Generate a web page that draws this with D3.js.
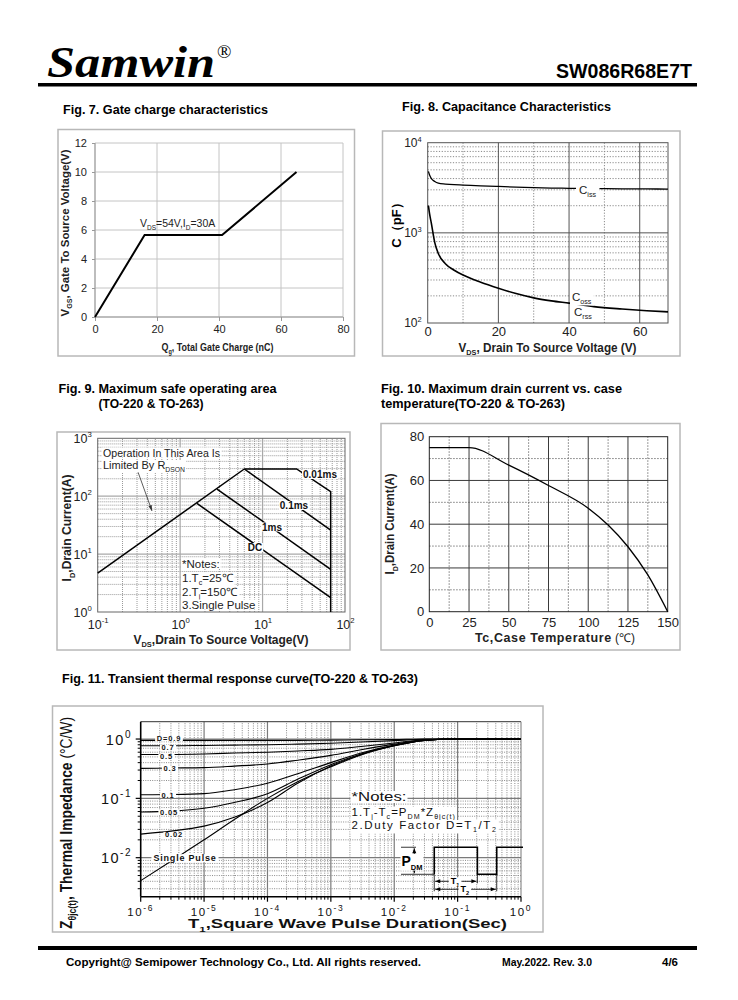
<!DOCTYPE html>
<html><head><meta charset="utf-8">
<script src="https://cdn.jsdelivr.net/npm/d3@7"></script>
<style>body{margin:0;background:#fff}svg{display:block}</style>
</head><body><svg id="page" width="738" height="1000" font-family='"Liberation Sans", Arial, sans-serif'></svg>
<script>
// ---------------- DATA ----------------
// Fig 7 gate charge
const fig7Q = [0, 16, 41, 65];
const fig7V = [0, 5.65, 5.65, 10];
const fig7XTicks = [0, 20, 40, 60, 80];
const fig7YTicks = [0, 2, 4, 6, 8, 10, 12];
// Fig 8 capacitance
const fig8V    = [0.2, 0.5, 1, 2, 3, 5, 7.5, 10, 15, 20, 25, 30, 35, 40, 47, 55, 62, 68];
const fig8Ciss = [4800, 4400, 4030, 3710, 3560, 3480, 3420, 3390, 3320, 3270, 3220, 3170, 3140, 3120, 3100, 3080, 3070, 3060];
const fig8Coss = [2000, 1650, 1300, 780, 590, 455, 385, 340, 283, 243, 212, 190, 176, 166, 152, 143, 137, 133];
const fig8XTicks = [0, 20, 40, 60];
const fig8XMinor = [10, 30, 50];
const fig8YTicks = [100, 1000, 10000];
// Fig 9 SOA
const soaRdsV = [0.1, 6.0],  soaRdsI = [4.7, 295];
const soa10usV = [6.0, 25.9, 67, 67], soa10usI = [295, 295, 120, 1];
const soa100usV = [6.0, 67], soa100usI = [295, 26];
const soa1msV = [2.8, 67], soa1msI = [133, 5.46];
const soaDCV = [1.6, 67], soaDCI = [75, 1.77];
const soaArrowV = [0.308, 0.456], soaArrowI = [262, 55.5];
const fig9XTicks = [0.1, 1, 10, 100];
const fig9YTicks = [1, 10, 100, 1000];
// Fig 10 drain current vs case temperature
const fig10T = [0, 25, 50, 75, 100, 112.5, 125, 137.5, 150];
const fig10I = [75, 75, 67, 57.7, 47.3, 39.6, 29.7, 16.8, 0];
const fig10XTicks = [0, 25, 50, 75, 100, 125, 150];
const fig10XMinor = [12.5, 37.5, 62.5, 87.5, 112.5, 137.5];
const fig10YTicks = [0, 20, 40, 60, 80];
const fig10YMinor = [10, 30, 50, 70];
// Fig 11 transient thermal
const fig11T = [1e-6, 3e-6, 1e-5, 3e-5, 1e-4, 3e-4, 1e-3, 3e-3, 1e-2, 3e-2, 1e-1, 1];
const z09 = [0.95, 0.95, 0.95, 0.95, 0.95, 0.95, 0.96, 0.97, 0.98, 1.0, 1.0, 1.0];
const z07 = [0.77, 0.77, 0.78, 0.79, 0.80, 0.82, 0.85, 0.89, 0.94, 0.99, 1.0, 1.0];
const z05 = [0.55, 0.55, 0.56, 0.58, 0.60, 0.63, 0.67, 0.75, 0.86, 0.97, 1.0, 1.0];
const z03 = [0.32, 0.325, 0.33, 0.35, 0.38, 0.44, 0.53, 0.66, 0.82, 0.96, 1.0, 1.0];
const z01 = [0.115, 0.116, 0.12, 0.14, 0.18, 0.26, 0.40, 0.58, 0.79, 0.95, 1.0, 1.0];
const z005 = [0.059, 0.061, 0.068, 0.085, 0.12, 0.21, 0.37, 0.56, 0.78, 0.95, 1.0, 1.0];
const z002 = [0.025, 0.028, 0.034, 0.048, 0.085, 0.18, 0.35, 0.55, 0.77, 0.95, 1.0, 1.0];
const zSingle = [0.0041, 0.0087, 0.020, 0.044, 0.10, 0.19, 0.34, 0.54, 0.77, 0.95, 1.0, 1.0];
const fig11Labels = ["D=0.9", "0.7", "0.5", "0.3", "0.1", "0.05", "0.02"];
const fig11XTicks = [1e-6, 1e-5, 1e-4, 1e-3, 1e-2, 1e-1, 1];
const fig11YTicks = [0.01, 0.1, 1];
const pulseT = [0.0428, 0.205, 0.414];   // rising, falling, rising edges
const pulseZ = [0.0150, 0.00525];        // top, bottom levels

// ---------------- HELPERS ----------------
const svg = d3.select('#page');
const FONT = '"Liberation Sans", Arial, sans-serif';

function frame(x, y, w, h) {
  svg.append('rect').attr('x', x).attr('y', y).attr('width', w).attr('height', h)
    .attr('fill', 'none').attr('stroke', '#b8b8b8').attr('stroke-width', 1.5);
}
function text(g, x, y, s, o = {}) {
  const t = g.append('text').attr('x', x).attr('y', y).text(s);
  for (const k in o) t.attr(k, o[k]);
  return t;
}
function rich(t, parts, fs) {
  let shift = 0;
  parts.forEach(([s, k]) => {
    const target = k === 'sub' ? fs * 0.3 : k === 'sup' ? -fs * 0.4 : 0;
    const ts = t.append('tspan').text(s).attr('dy', target - shift);
    if (k !== 'n') ts.attr('font-size', fs * 0.62);
    shift = target;
  });
  return t;
}
function bg(g, t, pad = 1, shrink = 1) {
  const b = t.node().getBBox();
  g.insert('rect', () => t.node()).attr('x', b.x - pad).attr('y', b.y + shrink)
    .attr('width', b.width + 2 * pad).attr('height', b.height - 2 * shrink).attr('fill', '#fff');
}
function minorLog(lo, hi) {
  const out = [];
  for (let e = lo; e < hi; e++) for (let m = 2; m <= 9; m++) out.push(m * Math.pow(10, e));
  return out;
}
function supTicks(ax, fs) {
  ax.selectAll('.tick text').each(function (d) {
    const e = Math.round(Math.log10(d));
    const t = d3.select(this); t.text(null);
    t.append('tspan').text('10');
    t.append('tspan').text(e).attr('dy', -fs * 0.45).attr('font-size', fs * 0.62);
  });
}
function vgrid(g, xs, ys, vals, stroke, dash, w = 1) {
  g.append('g').selectAll('line').data(vals).join('line')
    .attr('x1', d => xs(d)).attr('x2', d => xs(d))
    .attr('y1', ys.range()[0]).attr('y2', ys.range()[1])
    .attr('stroke', stroke).attr('stroke-width', w).attr('stroke-dasharray', dash);
}
function hgrid(g, xs, ys, vals, stroke, dash, w = 1) {
  g.append('g').selectAll('line').data(vals).join('line')
    .attr('y1', d => ys(d)).attr('y2', d => ys(d))
    .attr('x1', xs.range()[0]).attr('x2', xs.range()[1])
    .attr('stroke', stroke).attr('stroke-width', w).attr('stroke-dasharray', dash);
}
function styleAxis(ax, fs, color = '#222', tickColor = '#999') {
  ax.attr('font-family', FONT).attr('font-size', fs);
  ax.select('.domain').remove();
  ax.selectAll('.tick line').attr('stroke', tickColor);
  ax.selectAll('.tick text').attr('fill', color);
}
const zip = (a, b) => a.map((v, i) => [v, b[i]]);

// ---------------- HEADER / FOOTER ----------------
text(svg, 47, 77, 'Samwin', { 'font-family': '"Liberation Serif", "DejaVu Serif", serif', 'font-weight': 'bold', 'font-style': 'italic', 'font-size': 45, textLength: 168, lengthAdjust: 'spacingAndGlyphs' });
text(svg, 217, 58, '®', { 'font-family': '"Liberation Serif", serif', 'font-size': 19 });
text(svg, 692, 78, 'SW086R68E7T', { 'font-weight': 'bold', 'font-size': 20, 'text-anchor': 'end', textLength: 136, lengthAdjust: 'spacingAndGlyphs' });
svg.append('rect').attr('x', 38).attr('y', 83).attr('width', 659).attr('height', 3.5).attr('fill', '#000');
svg.append('rect').attr('x', 38).attr('y', 946).attr('width', 659).attr('height', 4).attr('fill', '#000');
text(svg, 66, 966, 'Copyright@ Semipower Technology Co., Ltd. All rights reserved.', { 'font-weight': 'bold', 'font-size': 11.5, textLength: 355, lengthAdjust: 'spacingAndGlyphs' });
text(svg, 502, 966, 'May.2022. Rev. 3.0', { 'font-weight': 'bold', 'font-size': 11, textLength: 90, lengthAdjust: 'spacingAndGlyphs' });
text(svg, 662, 966, '4/6', { 'font-weight': 'bold', 'font-size': 11, textLength: 16, lengthAdjust: 'spacingAndGlyphs' });

// ---------------- TITLES ----------------
const tStyle = { 'font-weight': 'bold', 'font-size': 13, lengthAdjust: 'spacingAndGlyphs' };
text(svg, 63, 114, 'Fig. 7. Gate charge characteristics', { ...tStyle, textLength: 205 });
text(svg, 402, 110.7, 'Fig. 8. Capacitance Characteristics', { ...tStyle, textLength: 209 });
text(svg, 58.5, 392.7, 'Fig. 9. Maximum safe operating area', { ...tStyle, textLength: 218 });
text(svg, 98.5, 407.5, '(TO-220 & TO-263)', { ...tStyle, textLength: 105 });
text(svg, 381, 392.7, 'Fig. 10. Maximum drain current vs. case', { ...tStyle, textLength: 241 });
text(svg, 381, 407.5, 'temperature(TO-220 & TO-263)', { ...tStyle, textLength: 184 });
text(svg, 62, 683.3, 'Fig. 11. Transient thermal response curve(TO-220 & TO-263)', { ...tStyle, textLength: 356 });

// ---------------- FIG 7 ----------------
{
  frame(58, 129.5, 296.5, 226.5);
  const g = svg.append('g');
  const x = d3.scaleLinear([0, 80], [95, 343]);
  const y = d3.scaleLinear([0, 12], [317, 143]);
  vgrid(g, x, y, fig7XTicks, '#c4c4c4', null);
  hgrid(g, x, y, fig7YTicks, '#c4c4c4', null);
  g.append('line').attr('x1', x(0)).attr('x2', x(0)).attr('y1', y(0)).attr('y2', y(12)).attr('stroke', '#999');
  g.append('line').attr('x1', x(0)).attr('x2', x(80)).attr('y1', y(0)).attr('y2', y(0)).attr('stroke', '#999');
  const ax = g.append('g').attr('transform', `translate(0,${y(0)})`)
    .call(d3.axisBottom(x).tickValues(fig7XTicks).tickSize(4).tickPadding(4));
  styleAxis(ax, 11);
  const ay = g.append('g').attr('transform', `translate(${x(0)},0)`)
    .call(d3.axisLeft(y).tickValues(fig7YTicks).tickSize(3).tickPadding(5));
  styleAxis(ay, 11);
  g.append('path').datum(zip(fig7Q, fig7V))
    .attr('d', d3.line().x(d => x(d[0])).y(d => y(d[1])))
    .attr('fill', 'none').attr('stroke', '#000').attr('stroke-width', 2);
  rich(text(g, 140, 226.5, '', { 'font-size': 10.5, fill: '#222' }),
    [['V', 'n'], ['DS', 'sub'], ['=54V,I', 'n'], ['D', 'sub'], ['=30A', 'n']], 10.5);
  rich(text(g, 0, 0, '', { 'font-size': 10.5, 'font-weight': 'bold', 'text-anchor': 'middle', transform: 'translate(69,233) rotate(-90)', textLength: 167, lengthAdjust: 'spacingAndGlyphs', fill: '#222' }),
    [['V', 'n'], ['GS', 'sub'], [',  Gate To  Source Voltage(V)', 'n']], 10.5);
  rich(text(g, 217.5, 351, '', { 'font-size': 10.5, 'font-weight': 'bold', 'text-anchor': 'middle', textLength: 112, lengthAdjust: 'spacingAndGlyphs', fill: '#222' }),
    [['Q', 'n'], ['g', 'sub'], [', Total Gate Charge (nC)', 'n']], 10.5);
}

// ---------------- FIG 8 ----------------
{
  frame(382.5, 131, 297.5, 225);
  const g = svg.append('g');
  const x = d3.scaleLinear([0, 68], [427.7, 668]);
  const y = d3.scaleLog([100, 10000], [323, 142.7]);
  hgrid(g, x, y, minorLog(2, 4), '#8a8a8a', '1.2,1.6');
  vgrid(g, x, y, fig8XMinor, '#8a8a8a', '1.2,1.6');
  vgrid(g, x, y, fig8XTicks.slice(1), '#555', null);
  hgrid(g, x, y, [1000], '#555', null);
  g.append('rect').attr('x', x(0)).attr('y', y(10000)).attr('width', x(68) - x(0)).attr('height', y(100) - y(10000))
    .attr('fill', 'none').attr('stroke', '#555');
  const ax = g.append('g').attr('transform', `translate(0,${y(100)})`)
    .call(d3.axisBottom(x).tickValues(fig8XTicks).tickSize(0).tickPadding(4));
  styleAxis(ax, 13, '#222');
  const ay = g.append('g').attr('transform', `translate(${x(0)},0)`)
    .call(d3.axisLeft(y).tickValues(fig8YTicks).tickSize(0).tickPadding(6));
  styleAxis(ay, 12, '#222');
  supTicks(ay, 12);
  const line = d3.line().x(d => x(d[0])).y(d => y(d[1])).curve(d3.curveMonotoneX);
  g.append('path').datum(zip(fig8V, fig8Ciss)).attr('d', line).attr('fill', 'none').attr('stroke', '#000').attr('stroke-width', 1.3);
  g.append('path').datum(zip(fig8V, fig8Coss)).attr('d', line).attr('fill', 'none').attr('stroke', '#000').attr('stroke-width', 1.6);
  const t1 = rich(text(g, 579, 193.5, '', { 'font-size': 11.5, fill: '#222' }), [['C', 'n'], ['iss', 'sub']], 11.5); bg(g, t1, 3);
  const t2 = rich(text(g, 572, 301, '', { 'font-size': 11.5, fill: '#222' }), [['C', 'n'], ['oss', 'sub']], 11.5); bg(g, t2, 2);
  rich(text(g, 574, 316, '', { 'font-size': 11.5, fill: '#222' }), [['C', 'n'], ['rss', 'sub']], 11.5);
  text(g, 0, 0, 'C（pF）', { 'font-size': 13, 'font-weight': 'bold', 'text-anchor': 'middle', transform: 'translate(401,222) rotate(-90)' });
  rich(text(g, 547.5, 351.5, '', { 'font-size': 12, 'font-weight': 'bold', 'text-anchor': 'middle', textLength: 178, lengthAdjust: 'spacingAndGlyphs', fill: '#222' }),
    [['V', 'n'], ['DS', 'sub'], [', Drain To Source Voltage (V)', 'n']], 12);
}

// ---------------- FIG 9 ----------------
{
  frame(57, 432, 293, 218);
  const g = svg.append('g');
  const x = d3.scaleLog([0.1, 100], [97.7, 345]);
  const y = d3.scaleLog([1, 1000], [612, 438.3]);
  vgrid(g, x, y, minorLog(-1, 2), '#9a9a9a', '1,1');
  hgrid(g, x, y, minorLog(0, 3), '#9a9a9a', '1,1');
  vgrid(g, x, y, [1, 10], '#a8a8a8', null, 1.2);
  hgrid(g, x, y, [10, 100], '#a8a8a8', null, 1.2);
  g.append('rect').attr('x', x(0.1)).attr('y', y(1000)).attr('width', x(100) - x(0.1)).attr('height', y(1) - y(1000))
    .attr('fill', 'none').attr('stroke', '#666');
  const ax = g.append('g').attr('transform', `translate(0,${y(1)})`)
    .call(d3.axisBottom(x).tickValues(fig9XTicks).tickSize(0).tickPadding(8));
  styleAxis(ax, 12.5, '#222'); supTicks(ax, 12.5);
  const ay = g.append('g').attr('transform', `translate(${x(0.1)},0)`)
    .call(d3.axisLeft(y).tickValues(fig9YTicks).tickSize(0).tickPadding(6));
  styleAxis(ay, 12.5, '#222'); supTicks(ay, 12.5);
  const line = d3.line().x(d => x(d[0])).y(d => y(d[1]));
  [[soaRdsV, soaRdsI], [soa10usV, soa10usI], [soa100usV, soa100usI], [soa1msV, soa1msI], [soaDCV, soaDCI]].forEach(([v, i]) => {
    g.append('path').datum(zip(v, i)).attr('d', line).attr('fill', 'none').attr('stroke', '#000').attr('stroke-width', 1.5);
  });
  // arrow
  const a = zip(soaArrowV, soaArrowI).map(d => [x(d[0]), y(d[1])]);
  g.append('line').attr('x1', a[0][0]).attr('y1', a[0][1]).attr('x2', a[1][0]).attr('y2', a[1][1]).attr('stroke', '#333').attr('stroke-width', 0.8);
  const ang = Math.atan2(a[1][1] - a[0][1], a[1][0] - a[0][0]);
  const hp = [[a[1][0], a[1][1]],
    [a[1][0] - 6 * Math.cos(ang - 0.3), a[1][1] - 6 * Math.sin(ang - 0.3)],
    [a[1][0] - 6 * Math.cos(ang + 0.3), a[1][1] - 6 * Math.sin(ang + 0.3)]];
  g.append('path').attr('d', 'M' + hp.join('L') + 'Z').attr('fill', '#333');
  const l1 = text(g, 103, 456.5, 'Operation In This Area Is', { 'font-size': 11, fill: '#222', textLength: 117, lengthAdjust: 'spacingAndGlyphs' }); bg(g, l1);
  const l2 = rich(text(g, 103, 469, '', { 'font-size': 11, fill: '#222' }), [['Limited By R', 'n'], ['DSON', 'sub']], 11); bg(g, l2);
  const lbl = (s, cx, by) => { const t = text(g, cx, by, s, { 'font-size': 10, 'font-weight': 'bold', 'text-anchor': 'middle', fill: '#111' }); bg(g, t, 1); };
  lbl('0.01ms', 320, 478);
  lbl('0.1ms', 294, 509);
  lbl('1ms', 272, 530.5);
  lbl('DC', 255, 551);
  const nts = { 'font-size': 11.5, fill: '#222' };
  const n1 = text(g, 182, 567.5, '*Notes:', nts); bg(g, n1);
  const n2 = rich(text(g, 182, 582, '', nts), [['1.T', 'n'], ['c', 'sub'], ['=25℃', 'n']], 11.5); bg(g, n2);
  const n3 = rich(text(g, 182, 595.5, '', nts), [['2.T', 'n'], ['j', 'sub'], ['=150℃', 'n']], 11.5); bg(g, n3);
  const n4 = text(g, 182, 608.5, '3.Single Pulse', nts); bg(g, n4);
  rich(text(g, 0, 0, '', { 'font-size': 12, 'font-weight': 'bold', 'text-anchor': 'middle', transform: 'translate(71,528) rotate(-90)', textLength: 107, lengthAdjust: 'spacingAndGlyphs', fill: '#222' }),
    [['I', 'n'], ['D', 'sub'], [',Drain Current(A)', 'n']], 12);
  rich(text(g, 221, 643.5, '', { 'font-size': 12, 'font-weight': 'bold', 'text-anchor': 'middle', textLength: 175, lengthAdjust: 'spacingAndGlyphs', fill: '#222' }),
    [['V', 'n'], ['DS', 'sub'], [',Drain To Source Voltage(V)', 'n']], 12);
}

// ---------------- FIG 10 ----------------
{
  frame(381, 423.5, 299, 226.5);
  const g = svg.append('g');
  const x = d3.scaleLinear([0, 150], [429.3, 667.7]);
  const y = d3.scaleLinear([0, 80], [611.7, 436.7]);
  vgrid(g, x, y, fig10XMinor, '#666', '1.3,1.7');
  hgrid(g, x, y, fig10YMinor, '#666', '1.3,1.7');
  vgrid(g, x, y, fig10XTicks.slice(1, -1), '#3a3a3a', null);
  hgrid(g, x, y, fig10YTicks.slice(1, -1), '#3a3a3a', null);
  g.append('rect').attr('x', x(0)).attr('y', y(80)).attr('width', x(150) - x(0)).attr('height', y(0) - y(80))
    .attr('fill', 'none').attr('stroke', '#222');
  const ax = g.append('g').attr('transform', `translate(0,${y(0)})`)
    .call(d3.axisBottom(x).tickValues(fig10XTicks).tickSize(0).tickPadding(6));
  styleAxis(ax, 13, '#222');
  const ay = g.append('g').attr('transform', `translate(${x(0)},0)`)
    .call(d3.axisLeft(y).tickValues(fig10YTicks).tickSize(0).tickPadding(5));
  styleAxis(ay, 13, '#222');
  g.append('path').datum(zip(fig10T, fig10I))
    .attr('d', d3.line().x(d => x(d[0])).y(d => y(d[1])).curve(d3.curveMonotoneX))
    .attr('fill', 'none').attr('stroke', '#000').attr('stroke-width', 1.3);
  rich(text(g, 0, 0, '', { 'font-size': 12.5, 'font-weight': 'bold', 'text-anchor': 'middle', transform: 'translate(394,524) rotate(-90)', textLength: 101, lengthAdjust: 'spacingAndGlyphs', fill: '#222' }),
    [['I', 'n'], ['D', 'sub'], [',Drain Current(A)', 'n']], 12.5);
  const xl = text(g, 475, 642, '', { 'font-size': 12.5, fill: '#222' });
  xl.append('tspan').text('Tc,Case Temperature').attr('font-weight', 'bold').attr('letter-spacing', 0.6);
  xl.append('tspan').text(' (℃)').attr('font-size', 12);
}

// ---------------- FIG 11 ----------------
{
  frame(52.5, 706, 490.5, 226);
  const g = svg.append('g');
  const x = d3.scaleLog([1e-6, 1], [140.7, 521]);
  const y = d3.scaleLog([0.0022, 1.96], [896.7, 721.7]);
  vgrid(g, x, y, minorLog(-6, 0), '#8c8c8c', '1,1.3');
  hgrid(g, x, y, minorLog(-3, 0).filter(v => v >= 0.0022 && v <= 1.96), '#8c8c8c', '1,1.3');
  vgrid(g, x, y, fig11XTicks.slice(1, -1), '#7a7a7a', null, 1.2);
  hgrid(g, x, y, fig11YTicks, '#7a7a7a', null, 1.2);
  // border
  g.append('line').attr('x1', x(1e-6)).attr('x2', x(1)).attr('y1', y.range()[1]).attr('y2', y.range()[1]).attr('stroke', '#333');
  g.append('line').attr('x1', x(1)).attr('x2', x(1)).attr('y1', y.range()[0]).attr('y2', y.range()[1]).attr('stroke', '#777');
  g.append('line').attr('x1', x(1e-6)).attr('x2', x(1e-6)).attr('y1', y.range()[0]).attr('y2', y.range()[1]).attr('stroke', '#000').attr('stroke-width', 1.6);
  g.append('line').attr('x1', x(1e-6)).attr('x2', x(1)).attr('y1', y.range()[0]).attr('y2', y.range()[0]).attr('stroke', '#000').attr('stroke-width', 1.6);
  // ticks
  g.append('g').selectAll('line').data(fig11XTicks).join('line')
    .attr('x1', d => x(d)).attr('x2', d => x(d)).attr('y1', y.range()[0]).attr('y2', y.range()[0] + 5).attr('stroke', '#000').attr('stroke-width', 1.2);
  g.append('g').selectAll('line').data(minorLog(-6, 0)).join('line')
    .attr('x1', d => x(d)).attr('x2', d => x(d)).attr('y1', y.range()[0]).attr('y2', y.range()[0] + 3).attr('stroke', '#000');
  g.append('g').selectAll('line').data(fig11YTicks).join('line')
    .attr('y1', d => y(d)).attr('y2', d => y(d)).attr('x1', x(1e-6) - 5).attr('x2', x(1e-6)).attr('stroke', '#000').attr('stroke-width', 1.2);
  g.append('g').selectAll('line').data(minorLog(-3, 1).filter(v => v >= 0.0022 && v <= 1.96)).join('line')
    .attr('y1', d => y(d)).attr('y2', d => y(d)).attr('x1', x(1e-6) - 3).attr('x2', x(1e-6)).attr('stroke', '#000');
  // tick labels
  const xt = g.append('g').selectAll('text').data(fig11XTicks).join('text')
    .attr('x', d => x(d)).attr('y', 915.5).attr('text-anchor', 'middle').attr('font-size', 11.5).attr('letter-spacing', 1.6).attr('fill', '#111');
  xt.each(function (d) {
    const t = d3.select(this); const e = Math.round(Math.log10(d));
    t.append('tspan').text('10'); t.append('tspan').text(e).attr('dy', -5).attr('font-size', 8.5);
  });
  const yt = g.append('g').selectAll('text').data(fig11YTicks).join('text')
    .attr('x', 132).attr('y', d => y(d) + 5.5).attr('text-anchor', 'end').attr('font-size', 14.5).attr('letter-spacing', 1.5).attr('fill', '#111');
  yt.each(function (d) {
    const t = d3.select(this); const e = Math.round(Math.log10(d));
    t.append('tspan').text('10'); t.append('tspan').text(e).attr('dy', -7).attr('font-size', 10);
  });
  // curves
  const line = d3.line().x(d => x(d[0])).y(d => y(d[1])).curve(d3.curveMonotoneX);
  const series = [z09, z07, z05, z03, z01, z005, z002, zSingle];
  series.forEach(s => g.append('path').datum(zip(fig11T, s)).attr('d', line).attr('fill', 'none').attr('stroke', '#000').attr('stroke-width', 1.1));
  // curve labels (small nudges keep the three stacked top labels from colliding)
  const lx = [169, 168, 166.5, 170, 168, 169, 174];
  const ldy = [1, 4, 4.5, 3, 3, 3, 3];
  series.slice(0, 7).forEach((s, i) => {
    const t = text(g, lx[i], y(s[0]) + ldy[i], fig11Labels[i], { 'font-size': 7.5, 'font-weight': 'bold', 'text-anchor': 'middle', 'letter-spacing': 0.9, fill: '#111' });
    bg(g, t, 1.5, 2);
  });
  const sp = text(g, 185, y(0.01) + 3.5, 'Single Pulse', { 'font-size': 9, 'font-weight': 'bold', 'text-anchor': 'middle', 'letter-spacing': 0.8, fill: '#111' });
  bg(g, sp, 2);
  // notes
  const nStyle = { 'font-size': 12, fill: '#111', lengthAdjust: 'spacingAndGlyphs' };
  const a1 = text(g, 351.5, 801, '*Notes:', { ...nStyle, textLength: 55 }); bg(g, a1);
  const a2 = rich(text(g, 351.5, 815.5, '', { ...nStyle, 'font-size': 11.5, 'letter-spacing': 1 }),
    [['1.T', 'n'], ['j', 'sub'], ['-T', 'n'], ['c', 'sub'], ['=P', 'n'], ['DM', 'sub'], ['*Z', 'n'], ['θjc(t)', 'sub']], 11.5); bg(g, a2);
  const a3 = rich(text(g, 351.5, 829, '', { ...nStyle, 'font-size': 11.5, 'letter-spacing': 1.6 }),
    [['2.Duty Factor D=T', 'n'], ['1', 'sub'], ['/T', 'n'], ['2', 'sub']], 11.5); bg(g, a3);
  // pulse diagram
  const [r1, f1, r2] = pulseT.map(x);
  const [top, bot] = pulseZ.map(y);
  const pg = g.append('g');
  pg.append('path').attr('d', `M${r1},${bot}V${top}H${f1}V${bot}H${r2}V${top}H${x(1) + 2}`)
    .attr('fill', 'none').attr('stroke', '#000').attr('stroke-width', 1.6);
  pg.append('line').attr('x1', 401).attr('x2', 416).attr('y1', top).attr('y2', top).attr('stroke', '#000').attr('stroke-width', 0.8);
  pg.append('line').attr('x1', 401).attr('x2', r1).attr('y1', bot).attr('y2', bot).attr('stroke', '#000').attr('stroke-width', 0.8);
  pg.append('line').attr('x1', 414.3).attr('x2', 414.3).attr('y1', top + 1).attr('y2', bot - 1).attr('stroke', '#000').attr('stroke-width', 0.8);
  pg.append('path').attr('d', `M414.3,${top + 1}l-2,5h4z M414.3,${bot - 1}l-2,-5h4z`).attr('fill', '#000');
  const pdm = rich(text(pg, 401.5, 866, '', { 'font-size': 14, 'font-weight': 'bold', fill: '#000' }), [['P', 'n'], ['DM', 'sub']], 12);
  bg(pg, pdm, 1);
  // T1 / T2 dimension arrows
  const dim = (x1, x2, yy, lab) => {
    pg.append('line').attr('x1', x1 + 1).attr('x2', x2 - 1).attr('y1', yy).attr('y2', yy).attr('stroke', '#000').attr('stroke-width', 0.8);
    pg.append('path').attr('d', `M${x1 + 1},${yy}l5,-2v4z M${x2 - 1},${yy}l-5,-2v4z`).attr('fill', '#000');
    const t = rich(text(pg, (x1 + x2) / 2 - 5, yy + 3, '', { 'font-size': 9, 'font-weight': 'bold' }), [['T', 'n'], [lab, 'sub']], 9);
    bg(pg, t, 2);
  };
  pg.append('line').attr('x1', r1).attr('x2', r1).attr('y1', bot).attr('y2', bot + 17).attr('stroke', '#000').attr('stroke-width', 0.8);
  pg.append('line').attr('x1', f1).attr('x2', f1).attr('y1', bot).attr('y2', bot + 9).attr('stroke', '#000').attr('stroke-width', 0.8);
  pg.append('line').attr('x1', r2).attr('x2', r2).attr('y1', bot).attr('y2', bot + 17).attr('stroke', '#000').attr('stroke-width', 0.8);
  dim(r1, f1, bot + 7, '1');
  dim(r1, r2, bot + 15, '2');
  // axis titles
  const yl = text(g, 0, 0, '', { 'font-size': 16, 'font-weight': 'bold', 'text-anchor': 'middle', transform: 'translate(72,823) rotate(-90)', textLength: 212, lengthAdjust: 'spacingAndGlyphs', fill: '#111' });
  yl.append('tspan').text('Z');
  yl.append('tspan').text('θjc(t)').attr('font-size', 10).attr('dy', 4);
  yl.append('tspan').text(', Thermal Impedance ').attr('dy', -4);
  yl.append('tspan').text('(°C/W)').attr('font-weight', 'normal');
  rich(text(g, 347.5, 928, '', { 'font-size': 12, 'font-weight': 'bold', 'text-anchor': 'middle', textLength: 319, lengthAdjust: 'spacingAndGlyphs', fill: '#111' }),
    [['T', 'n'], ['1', 'sub'], [',Square Wave Pulse Duration(Sec)', 'n']], 12);
}
</script></body></html>
